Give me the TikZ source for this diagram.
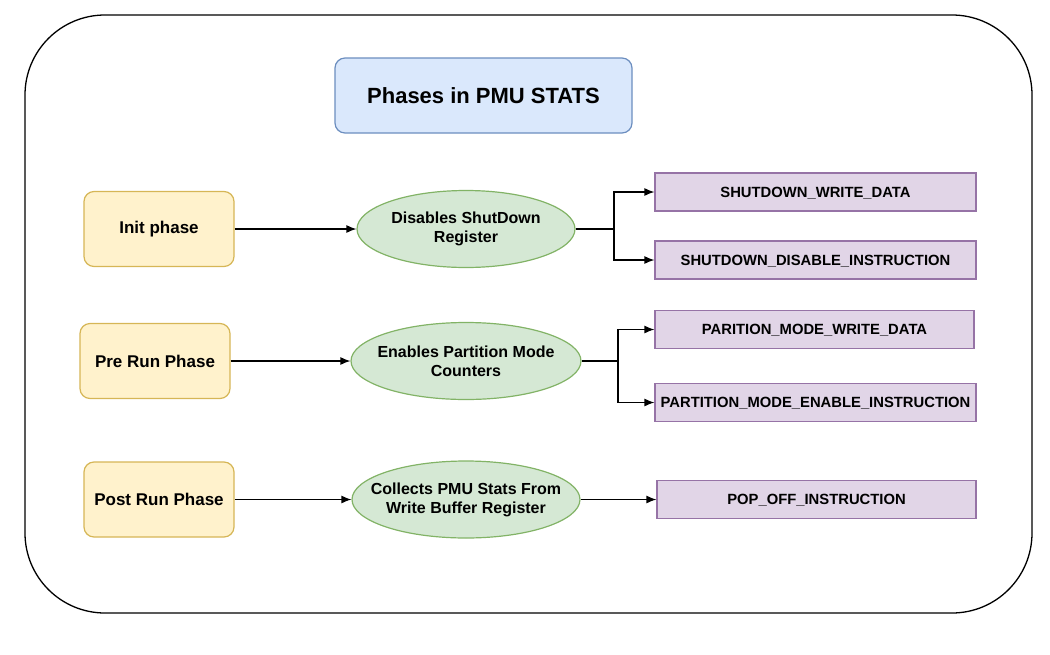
\documentclass[tikz,border=0pt]{standalone}
\usepackage{fontspec}
\setmainfont{Liberation Sans}
\usepackage{xcolor}
\usetikzlibrary{shapes.geometric,arrows.meta}
\definecolor{titlefill}{HTML}{DAE8FC}
\definecolor{titleline}{HTML}{6C8EBF}
\definecolor{phasefill}{HTML}{FFF2CC}
\definecolor{phaseline}{HTML}{D6B656}
\definecolor{actfill}{HTML}{D5E8D4}
\definecolor{actline}{HTML}{82B366}
\definecolor{instfill}{HTML}{E1D5E7}
\definecolor{instline}{HTML}{9673A6}
\tikzset{>={Latex[length=10pt,width=8pt]}}
\tikzset{
  phasebox/.style={draw=phaseline,fill=phasefill,line width=1.2pt,rounded corners=10pt,
    minimum width=150pt,minimum height=75pt,inner sep=0pt,
    font=\fontsize{17}{20}\selectfont\bfseries},
  actbox/.style={ellipse,draw=actline,fill=actfill,line width=1.2pt,
    minimum height=77pt,inner xsep=-20pt,inner ysep=0pt,align=center,
    font=\fontsize{16}{19}\selectfont\bfseries},
  instbox/.style={draw=instline,fill=instfill,line width=1.2pt,
    minimum width=320pt,minimum height=38pt,inner sep=0pt,
    text height=10.6pt,text depth=0pt,
    font=\fontsize{14.8}{17}\selectfont\bfseries},
  link/.style={line width=1.2pt,->}
}

\begin{document}
\begin{tikzpicture}[x=1pt,y=-1pt]
\useasboundingbox (0,0) rectangle (1050,654);
\draw[line width=1.3pt,rounded corners=80pt] (25,15) rectangle (1032,613);

\node[draw=titleline,fill=titlefill,line width=1.2pt,rounded corners=10pt,
  minimum width=297pt,minimum height=75pt,font=\fontsize{22}{26}\selectfont\bfseries]
  (title) at (483.5,95.5) {Phases in PMU STATS};

\node[phasebox] (init) at (159,229) {Init phase};
\node[phasebox] (prerun) at (155,361) {Pre Run Phase};
\node[phasebox] (postrun) at (159,499.5) {Post Run Phase};

\node[actbox,minimum width=218pt] (disable) at (466,229) {Disables ShutDown\\Register};
\node[actbox,minimum width=230pt] (enable) at (466,361) {Enables Partition Mode\\Counters};
\node[actbox,minimum width=228pt] (collect) at (466,499.5) {Collects PMU Stats From\\Write Buffer Register};

\node[instbox,minimum width=321pt] (sdwrite) at (815.5,192) {SHUTDOWN\_WRITE\_DATA};
\node[instbox,minimum width=321pt] (sddisable) at (815.5,260) {SHUTDOWN\_DISABLE\_INSTRUCTION};
\node[instbox,minimum width=319pt] (pmwrite) at (814.5,329.5) {PARITION\_MODE\_WRITE\_DATA};
\node[instbox,minimum width=321pt] (pmenable) at (815.5,402.5) {PARTITION\_MODE\_ENABLE\_INSTRUCTION};
\node[instbox,minimum width=319pt] (popoff) at (816.5,499.5) {POP\_OFF\_INSTRUCTION};

\coordinate (fork1) at (614,229);
\coordinate (fork2) at (618,361);

\draw[link] (init) -- (disable);
\draw[link] (prerun) -- (enable);
\draw[link] (postrun) -- (collect);

\draw[line width=1.2pt] (disable.east) -- (fork1);
\draw[link] (fork1) |- (sdwrite.west);
\draw[link] (fork1) |- (sddisable.west);

\draw[line width=1.2pt] (enable.east) -- (fork2);
\draw[link] (fork2) |- (pmwrite.west);
\draw[link] (fork2) |- (pmenable.west);

\draw[link] (collect) -- (popoff);
\end{tikzpicture}
\end{document}
